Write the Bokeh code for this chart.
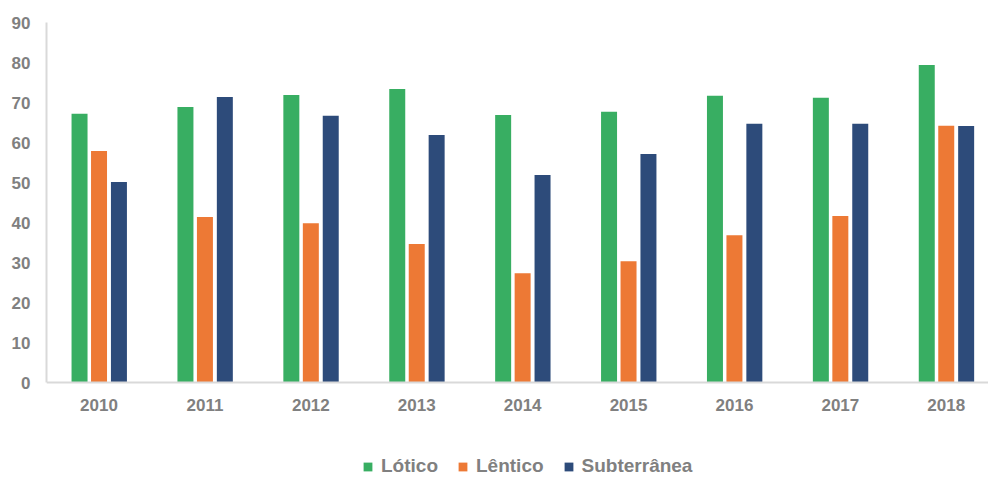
from bokeh.plotting import figure
from bokeh.models import ColumnDataSource, Range1d, FixedTicker, Legend, LegendItem
from bokeh.transform import dodge
from bokeh.embed import file_html
from bokeh.resources import INLINE

years = ["2010", "2011", "2012", "2013", "2014", "2015", "2016", "2017", "2018"]
lotico = [67.2, 68.9, 71.9, 73.4, 66.9, 67.7, 71.7, 71.2, 79.4]
lentico = [57.9, 41.4, 39.8, 34.6, 27.3, 30.3, 36.8, 41.6, 64.2]
subterranea = [50.1, 71.4, 66.7, 61.9, 51.9, 57.1, 64.7, 64.7, 64.1]
y_ticks = [0, 10, 20, 30, 40, 50, 60, 70, 80, 90]

FONT = "Liberation Sans"
GREY = "#808080"
AXIS = "#d9d9d9"

src = ColumnDataSource(dict(x=list(range(len(years))), lotico=lotico,
                            lentico=lentico, subterranea=subterranea))

p = figure(width=988, height=477, output_backend="svg", toolbar_location=None,
           x_range=Range1d(-0.496, 8.399), y_range=Range1d(-23.75, 90),
           min_border_left=46, min_border_right=0, min_border_top=22,
           min_border_bottom=0)
p.outline_line_color = None
p.xgrid.visible = False
p.ygrid.visible = False

bw = 0.151
r1 = p.vbar(x=dodge("x", -0.184, range=p.x_range), top="lotico", width=bw, source=src,
            color="#38ae62", line_color=None)
r2 = p.vbar(x=dodge("x", 0.0, range=p.x_range), top="lentico", width=bw, source=src,
            color="#ed7935", line_color=None)
r3 = p.vbar(x=dodge("x", 0.188, range=p.x_range), top="subterranea", width=bw, source=src,
            color="#2d4b7a", line_color=None)

for ax in (p.xaxis[0], p.yaxis[0]):
    ax.axis_line_color = AXIS
    ax.axis_line_width = 2
    ax.major_tick_line_color = None
    ax.minor_tick_line_color = None
    ax.major_label_text_font = FONT
    ax.major_label_text_font_style = "bold"
    ax.major_label_text_font_size = "17px"
    ax.major_label_text_color = GREY

p.yaxis[0].ticker = FixedTicker(ticks=y_ticks)
p.yaxis[0].bounds = (0, 90)
p.yaxis[0].major_label_standoff = 10
p.xaxis[0].ticker = FixedTicker(ticks=list(range(len(years))))
p.xaxis[0].major_label_overrides = {i: y for i, y in enumerate(years)}
p.xaxis[0].major_label_standoff = 10
p.xaxis[0].fixed_location = 0

legend = Legend(items=[LegendItem(label="Lótico", renderers=[r1]),
                       LegendItem(label="Lêntico", renderers=[r2]),
                       LegendItem(label="Subterrânea", renderers=[r3])],
                orientation="horizontal", location=(316, 0),
                glyph_width=11, glyph_height=11, label_standoff=8, spacing=19,
                padding=0, margin=0, border_line_color=None,
                background_fill_alpha=0,
                label_text_font=FONT, label_text_font_style="bold",
                label_text_font_size="19px", label_text_color=GREY)
p.add_layout(legend, "center")

open("out.html", "w").write(file_html(p, INLINE))
